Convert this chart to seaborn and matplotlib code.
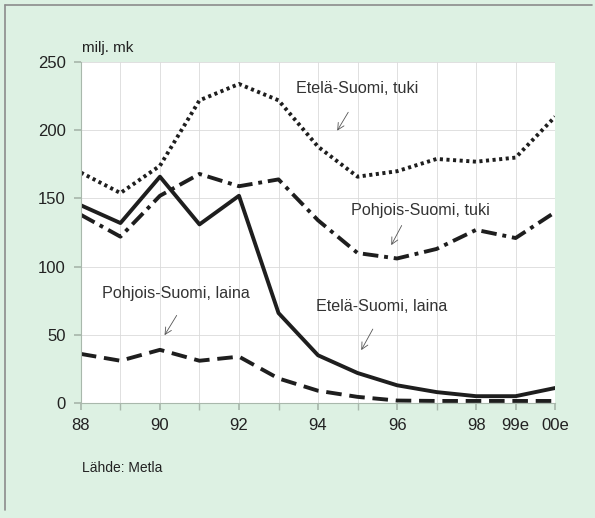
import numpy as np
import pandas as pd
import matplotlib
matplotlib.use("Agg")
import matplotlib.pyplot as plt
import seaborn as sns
from matplotlib.lines import Line2D

years = [88, 89, 90, 91, 92, 93, 94, 95, 96, 97, 98, 99, 100]
tick_pos = [88, 90, 92, 94, 96, 98, 99, 100]
tick_labels = ["88", "90", "92", "94", "96", "98", "99e", "00e"]

etela_tuki = [169, 154, 174, 222, 234, 222, 188, 166, 170, 179, 177, 180, 210]
pohjois_tuki = [138, 122, 152, 168, 159, 164, 134, 110, 106, 113, 127, 121, 140]
etela_laina = [145, 132, 166, 131, 152, 66, 35, 22, 13, 8, 5, 5, 11]
pohjois_laina = [36, 31, 39, 31, 34, 18, 9, 4.5, 1.8, 1.5, 1.5, 1.5, 1.5]

bg = "#ddf1e3"

sns.set_theme(style="white")
plt.rcParams["font.family"] = ["Liberation Sans", "DejaVu Sans"]

fig = plt.figure(figsize=(5.95, 5.18), dpi=100, facecolor=bg)
ax = fig.add_axes([0.136, 0.222, 0.797, 0.658])
ax.set_facecolor("white")

# line styles for the four series
series = [
    (etela_tuki, (0, (0.8, 0.9))),
    (pohjois_tuki, (0, (4, 1.5, 1, 1.5))),
    (etela_laina, "-"),
    (pohjois_laina, (0, (4, 2))),
]
for vals, ls in series:
    df = pd.DataFrame({"year": years, "value": vals})
    sns.lineplot(data=df, x="year", y="value", ax=ax, color="#1e1e1e",
                 linewidth=2.8, linestyle=ls)

ax.set_xlim(88, 100)
ax.set_ylim(0, 250)
ax.set_xticks(years, minor=True)
ax.set_xticks(tick_pos)
ax.set_xticklabels(tick_labels, fontsize=12, color="#222222")
ax.set_yticks([0, 50, 100, 150, 200, 250])
ax.set_yticklabels(["0", "50", "100", "150", "200", "250"], fontsize=12, color="#222222")
ax.grid(True, which="both", axis="x", color="#dadada", linewidth=0.6)
ax.grid(True, which="major", axis="y", color="#dadada", linewidth=0.6)
ax.tick_params(axis="both", which="both", length=5, color="#a9b8ac", pad=6)
ax.tick_params(axis="x", which="both", bottom=True)
ax.tick_params(axis="y", left=True)
ax.set_xlabel("")
ax.set_ylabel("")
for side in ["top", "right"]:
    ax.spines[side].set_visible(False)
for side in ["left", "bottom"]:
    ax.spines[side].set_color("#a9b8ac")
    ax.spines[side].set_linewidth(0.8)

notes = [
    ("Etelä-Suomi, tuki", 95.0, 231, (94.8, 215), (94.45, 198)),
    ("Pohjois-Suomi, tuki", 96.6, 141.5, (96.15, 132), (95.82, 114)),
    ("Pohjois-Suomi, laina", 90.4, 80.5, (90.46, 66), (90.08, 48)),
    ("Etelä-Suomi, laina", 95.6, 70.5, (95.42, 56), (95.06, 37)),
]
for text, tx, ty, start, end in notes:
    ax.text(tx, ty, text, ha="center", va="center", fontsize=11.6, color="#333333")
    ax.annotate("", xy=end, xytext=start,
                arrowprops=dict(arrowstyle="->", color="#555555", lw=0.6))

fig.text(0.138, 0.907, "milj. mk", fontsize=11, color="#222222", va="center")
fig.text(0.138, 0.097, "Lähde: Metla", fontsize=10, color="#222222", va="center")

# scanned frame: only top and left edges show
fig.lines.append(Line2D([0.009, 0.995], [0.99, 0.99], transform=fig.transFigure,
                        color="#8c8c8c", linewidth=1.2))
fig.lines.append(Line2D([0.009, 0.009], [0.99, 0.015], transform=fig.transFigure,
                        color="#8c8c8c", linewidth=1.2))

fig.savefig("out.png", dpi=100, facecolor=bg)
